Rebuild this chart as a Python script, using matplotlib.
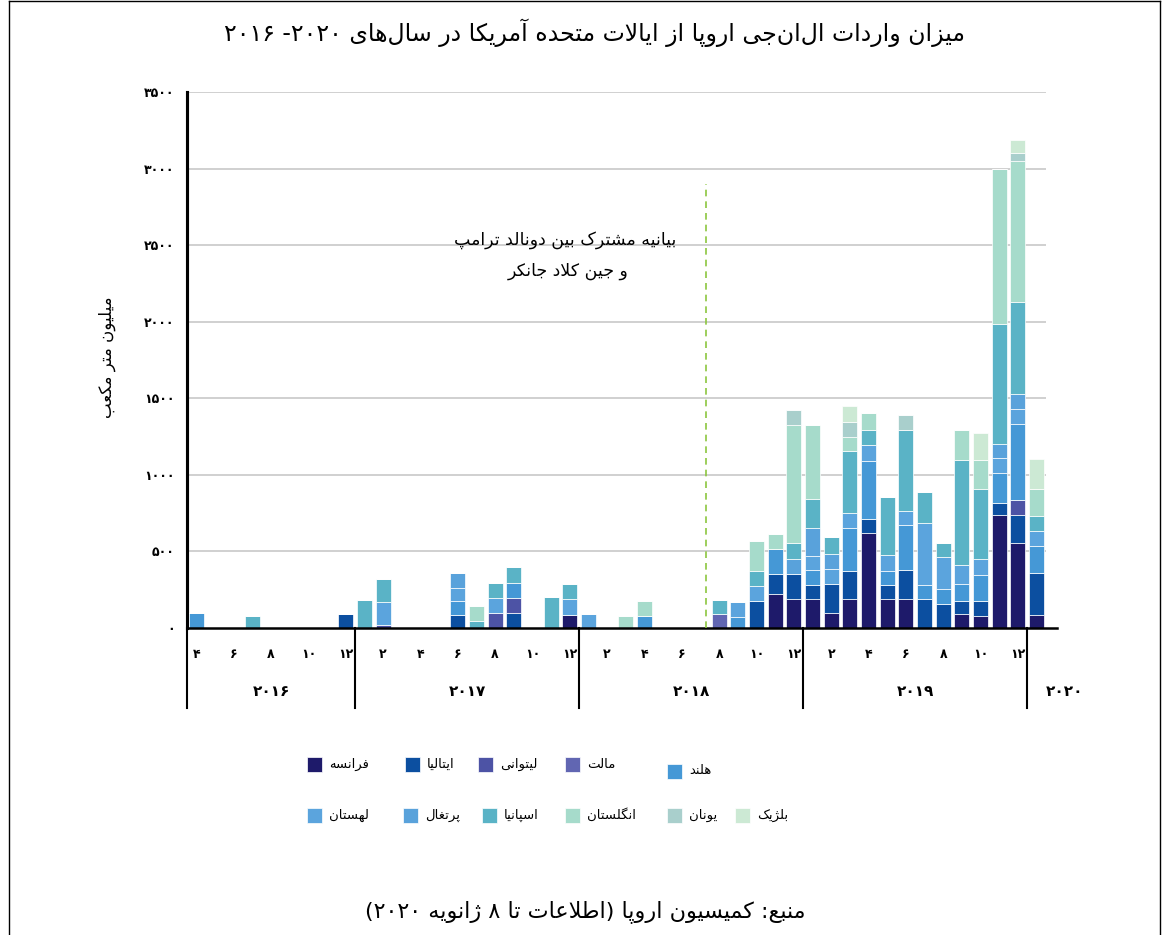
import matplotlib
matplotlib.use("Agg")
import matplotlib.pyplot as plt
from matplotlib.lines import Line2D
from matplotlib.patches import Rectangle
import matplotlib.transforms as mtransforms

plt.rcParams['font.family'] = ['DejaVu Sans']

# ---- data (million cubic metres) ----
months = ['2016-04', '2016-07', '2016-12', '2017-01', '2017-02', '2017-06', '2017-07', '2017-08',
          '2017-09', '2017-11', '2017-12', '2018-01', '2018-03', '2018-04', '2018-08', '2018-09',
          '2018-10', '2018-11', '2018-12', '2019-01', '2019-02', '2019-03', '2019-04', '2019-05',
          '2019-06', '2019-07', '2019-08', '2019-09', '2019-10', '2019-11', '2019-12', '2020-01']

france = [0, 0, 0, 0, 0, 0, 0, 0, 0, 0, 87, 0, 0, 0, 0, 0,
          0, 225, 188, 188, 98, 188, 618, 188, 188, 0, 0, 94, 81, 738, 555, 85]
italy = [0, 0, 94, 0, 0, 87, 0, 0, 98, 0, 0, 0, 0, 0, 0, 0,
         175, 131, 168, 92, 192, 183, 94, 92, 194, 188, 159, 81, 94, 76, 185, 273]
lithuania = [0, 0, 0, 0, 22, 0, 0, 98, 98, 0, 0, 0, 0, 0, 0, 0,
             0, 0, 0, 0, 0, 0, 0, 0, 0, 0, 0, 0, 0, 0, 99, 0]
malta = [0, 0, 0, 0, 0, 0, 0, 0, 0, 0, 0, 0, 0, 0, 94, 0,
         0, 0, 0, 0, 0, 0, 0, 0, 0, 0, 0, 0, 0, 0, 0, 0]
netherlands = [98, 0, 0, 0, 0, 87, 0, 0, 98, 0, 0, 0, 0, 79, 0, 72,
               0, 159, 0, 100, 0, 279, 380, 92, 290, 96, 94, 111, 170, 201, 491, 175]
poland = [0, 0, 0, 0, 146, 87, 0, 98, 0, 0, 105, 94, 0, 0, 0, 98,
          100, 0, 0, 92, 98, 98, 105, 105, 94, 404, 212, 125, 109, 94, 98, 98]
portugal = [0, 0, 0, 0, 0, 98, 0, 0, 0, 0, 0, 0, 0, 0, 0, 0,
            0, 0, 94, 179, 98, 0, 0, 0, 0, 0, 0, 0, 0, 92, 98, 0]
spain = [0, 76, 0, 186, 149, 0, 48, 98, 105, 201, 98, 0, 0, 0, 92, 0,
         96, 0, 103, 190, 109, 408, 94, 378, 524, 203, 87, 688, 454, 781, 601, 103]
uk = [0, 0, 0, 0, 0, 0, 98, 0, 0, 0, 0, 0, 76, 98, 0, 0,
      199, 98, 775, 483, 0, 94, 114, 0, 0, 0, 0, 197, 186, 1016, 924, 175]
greece = [0, 0, 0, 0, 0, 0, 0, 0, 0, 0, 0, 0, 0, 0, 0, 0,
          0, 0, 94, 0, 0, 94, 0, 0, 103, 0, 0, 0, 0, 0, 48, 0]
belgium = [0, 0, 0, 0, 0, 0, 0, 0, 0, 0, 0, 0, 0, 0, 0, 0,
           0, 0, 0, 0, 0, 103, 0, 0, 0, 0, 0, 0, 179, 0, 87, 196]

countries = ['فرانسه', 'ایتالیا', 'لیتوانی', 'مالت', 'هلند', 'لهستان',
             'پرتغال', 'اسپانیا', 'انگلستان', 'یونان', 'بلژیک']
series = [france, italy, lithuania, malta, netherlands, poland,
          portugal, spain, uk, greece, belgium]
colors = ['#1e1a6a', '#0c4fa0', '#4d53a5', '#6166b2', '#4598d6', '#5ba4dd',
          '#59a2db', '#5ab3c6', '#a6dbcb', '#a9cfcc', '#cce9d4']

years = [2016, 2017, 2018, 2019, 2020]
yticks = [0, 500, 1000, 1500, 2000, 2500, 3000, 3500]
event_date = (2018, 7, 25)  # Trump - Juncker joint statement
event_top = 2900

title = 'میزان واردات ال\u200cان\u200cجی اروپا از ایالات متحده آمریکا در سال\u200cهای ۲۰۲۰- ۲۰۱۶'
source = 'منبع: کمیسیون اروپا (اطلاعات تا ۸ ژانویه ۲۰۲۰)'
ylabel = 'میلیون متر مکعب'
note1 = 'بیانیه مشترک بین دونالد ترامپ'
note2 = 'و جین کلاد جانکر'

# ---- simple Persian shaping (matplotlib has no bidi / joining) ----
FORMS = {
    'ا': ('\uFE8D', '\uFE8E', None, None), 'آ': ('\uFE81', '\uFE82', None, None),
    'ب': ('\uFE8F', '\uFE90', '\uFE91', '\uFE92'), 'پ': ('\uFB56', '\uFB57', '\uFB58', '\uFB59'),
    'ت': ('\uFE95', '\uFE96', '\uFE97', '\uFE98'), 'ج': ('\uFE9D', '\uFE9E', '\uFE9F', '\uFEA0'),
    'چ': ('\uFB7A', '\uFB7B', '\uFB7C', '\uFB7D'), 'ح': ('\uFEA1', '\uFEA2', '\uFEA3', '\uFEA4'),
    'خ': ('\uFEA5', '\uFEA6', '\uFEA7', '\uFEA8'), 'د': ('\uFEA9', '\uFEAA', None, None),
    'ر': ('\uFEAD', '\uFEAE', None, None), 'ز': ('\uFEAF', '\uFEB0', None, None),
    'ژ': ('\uFB8A', '\uFB8B', None, None), 'س': ('\uFEB1', '\uFEB2', '\uFEB3', '\uFEB4'),
    'ش': ('\uFEB5', '\uFEB6', '\uFEB7', '\uFEB8'), 'ص': ('\uFEB9', '\uFEBA', '\uFEBB', '\uFEBC'),
    'ط': ('\uFEC1', '\uFEC2', '\uFEC3', '\uFEC4'), 'ع': ('\uFEC9', '\uFECA', '\uFECB', '\uFECC'),
    'غ': ('\uFECD', '\uFECE', '\uFECF', '\uFED0'), 'ف': ('\uFED1', '\uFED2', '\uFED3', '\uFED4'),
    'ق': ('\uFED5', '\uFED6', '\uFED7', '\uFED8'), 'ک': ('\uFB8E', '\uFB8F', '\uFB90', '\uFB91'),
    'گ': ('\uFB92', '\uFB93', '\uFB94', '\uFB95'), 'ل': ('\uFEDD', '\uFEDE', '\uFEDF', '\uFEE0'),
    'م': ('\uFEE1', '\uFEE2', '\uFEE3', '\uFEE4'), 'ن': ('\uFEE5', '\uFEE6', '\uFEE7', '\uFEE8'),
    'ه': ('\uFEE9', '\uFEEA', '\uFEEB', '\uFEEC'), 'و': ('\uFEED', '\uFEEE', None, None),
    'ی': ('\uFBFC', '\uFBFD', '\uFBFE', '\uFBFF'),
    'LA': ('\uFEFB', '\uFEFC', None, None), 'LAA': ('\uFEF5', '\uFEF6', None, None),
}
MIRROR = {'(': ')', ')': '('}


def jtype(c):
    if c not in FORMS:
        return 'U'
    return 'D' if FORMS[c][2] else 'R'


def fa(text):
    seq = []
    i = 0
    while i < len(text):
        c = text[i]
        if c == 'ل' and i + 1 < len(text) and text[i + 1] in 'اآ':
            seq.append('LA' if text[i + 1] == 'ا' else 'LAA')
            i += 2
        else:
            seq.append(c)
            i += 1
    shaped = []
    for k, c in enumerate(seq):
        t = jtype(c)
        if t == 'U':
            if c != '\u200c':
                shaped.append(c)
            continue
        prev = k > 0 and jtype(seq[k - 1]) == 'D'
        nxt = t == 'D' and k + 1 < len(seq) and jtype(seq[k + 1]) in 'DR'
        iso, fin, ini, med = FORMS[c]
        if prev and nxt:
            shaped.append(med)
        elif prev:
            shaped.append(fin)
        elif nxt:
            shaped.append(ini)
        else:
            shaped.append(iso)
    # visual order: reverse runs, keep digit runs left-to-right
    runs = []
    for c in shaped:
        ltr = c.isdigit() or c.isascii() and c.isalpha()
        if runs and runs[-1][0] == ltr:
            runs[-1][1].append(c)
        else:
            runs.append([ltr, [c]])
    out = ''
    for ltr, chars in reversed(runs):
        if ltr:
            out += ''.join(chars)
        else:
            out += ''.join(MIRROR.get(c, c) for c in reversed(chars))
    return out


def fa_num(n):
    return str(n).translate(str.maketrans('0123456789', '۰۱۲۳۴۵۶۷۸۹'))


def month_index(y, m):
    return (y - 2016) * 12 + (m - 4)


xs = [month_index(int(s[:4]), int(s[5:])) for s in months]

# ---- figure ----
fig = plt.figure(figsize=(11.68, 9.35), dpi=100)
ax = fig.add_axes([0.1601, 0.3283, 0.7354, 0.5733])

bottom = [0] * len(months)
for vals, col in zip(series, colors):
    ax.bar(xs, vals, width=0.8, bottom=bottom, color=col, edgecolor='white',
           linewidth=0.5, zorder=3)
    bottom = [b + v for b, v in zip(bottom, vals)]

ax.set_xlim(-0.5, 45.5)
ax.set_ylim(0, 3500)
for v in yticks[1:]:
    ax.axhline(v, color='#c8c8c8', lw=1.2, zorder=1)

ax.set_yticks(yticks)
ax.set_yticklabels([fa_num(v) for v in yticks], fontsize=9, fontweight='bold')
ax.tick_params(axis='y', length=0, pad=9)
ax.set_xticks([])
for s in ['top', 'right', 'bottom']:
    ax.spines[s].set_visible(False)
ax.spines['left'].set_linewidth(2.2)
ax.plot([-0.5, 46.1], [0, 0], color='black', lw=1.8, clip_on=False, zorder=4)

trans = mtransforms.blended_transform_factory(ax.transData, ax.transAxes)
# month labels
for y in years[:-1]:
    for m in range(2, 13, 2):
        idx = month_index(y, m)
        if idx < 0:
            continue
        ax.text(idx, -0.05, fa_num(m), transform=trans, ha='center', va='center',
                fontsize=9, fontweight='bold')
# year labels and separators
bounds = [-0.5, 8.5, 20.5, 32.5, 44.5]
for b in bounds:
    ax.plot([b, b], [0, -0.149], transform=trans, color='black', lw=1.5, clip_on=False)
ax.plot([-0.5, -0.5], [0, 1], transform=trans, color='black', lw=2.2, clip_on=False)
year_centers = [4.0, 14.5, 26.5, 38.5, 46.5]
for y, c in zip(years, year_centers):
    ax.text(c, -0.119, fa_num(y), transform=trans, ha='center', va='center',
            fontsize=11, fontweight='bold')

# event marker
ev_x = month_index(event_date[0], event_date[1]) - 0.5 + event_date[2] / 31
ax.plot([ev_x, ev_x], [0, event_top], color='#8cc63f', lw=1.2, ls=(0, (4, 3)), zorder=5)
ax.text(19.75, 2536, fa(note1), ha='center', va='center', fontsize=12.5)
ax.text(19.9, 2333, fa(note2), ha='center', va='center', fontsize=12.5)

ax.set_ylabel(fa(ylabel), fontsize=12)
ax.yaxis.set_label_coords(-0.083, 0.505)

fig.text(0.509, 0.965, fa(title), ha='center', va='center', fontsize=17)
fig.text(0.501, 0.025, fa(source), ha='center', va='center', fontsize=16)

# legend drawn by hand (RTL layout of the original)
leg = [(307, 764), (405, 764), (478, 764), (565, 764), (667, 771),
       (307, 815), (403, 815), (482, 815), (565, 815), (667, 815), (735, 815)]
for (px, py), name, col in zip(leg, countries, colors):
    fig.patches.append(Rectangle((px / 1168, 1 - (py + 7.5) / 935), 15 / 1168, 15 / 935,
                                 transform=fig.transFigure, facecolor=col,
                                 edgecolor='white', lw=0.5))
    fig.text((px + 22) / 1168, 1 - py / 935, fa(name), ha='left', va='center', fontsize=9.5)

# outer frame
for xy in [([8.5 / 1168, 8.5 / 1168], [0, 0.999]), ([8.5 / 1168, 1160 / 1168], [0.999, 0.999]),
           ([1160 / 1168, 1160 / 1168], [0, 0.999])]:
    fig.add_artist(Line2D(xy[0], xy[1], color='black', lw=1, transform=fig.transFigure))

fig.savefig('out.png', dpi=100)
